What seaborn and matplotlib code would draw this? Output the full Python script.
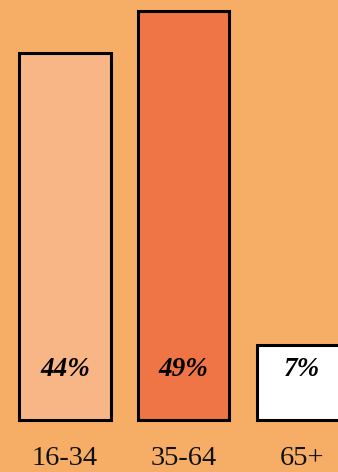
import numpy as np
import pandas as pd
import matplotlib
matplotlib.use("Agg")
import matplotlib.pyplot as plt
import seaborn as sns

# Share of people by age group
age_groups = ["16-34", "35-64", "65+"]
shares = [44, 49, 7]
bar_colors = ["#F8B585", "#EF7446", "#FFFFFF"]
background = "#F6AE67"
min_bar = 9                                       # short bars are stretched so the label fits

df = pd.DataFrame({"age": age_groups, "share": shares})
df["height"] = np.maximum(df["share"], min_bar)

sns.set_theme(style="white")
plt.rcParams["font.family"] = ["Liberation Serif", "DejaVu Serif"]

fig = plt.figure(figsize=(3.38, 4.72), dpi=100, facecolor=background)
ax = fig.add_axes([0, 52 / 472, 1, 420 / 472])
ax.set_facecolor(background)

sns.barplot(data=df, x="age", y="height", hue="age", palette=bar_colors,
            width=0.77, edgecolor="black", linewidth=2.2, saturation=1,
            legend=False, ax=ax)
for p in ax.patches:
    p.set_clip_on(False)                          # keep the bottom edge visible

for i, val in enumerate(df["share"]):
    ax.annotate(f"{val}%", xy=(i, 0), xytext=(0, 36), textcoords="offset points",
                ha="center", va="center", fontsize=19.5, fontweight="bold",
                fontstyle="italic", color="black")

ax.set_xlim(-0.548, 2.30)
ax.set_ylim(0, 50.3)
ax.set_xlabel("")
ax.set_ylabel("")
ax.set_yticks([])
ax.tick_params(axis="x", length=0, pad=19, labelsize=20.5, colors="#111111")
for s in ax.spines.values():
    s.set_visible(False)

fig.savefig("out.png", dpi=100, facecolor=background)
